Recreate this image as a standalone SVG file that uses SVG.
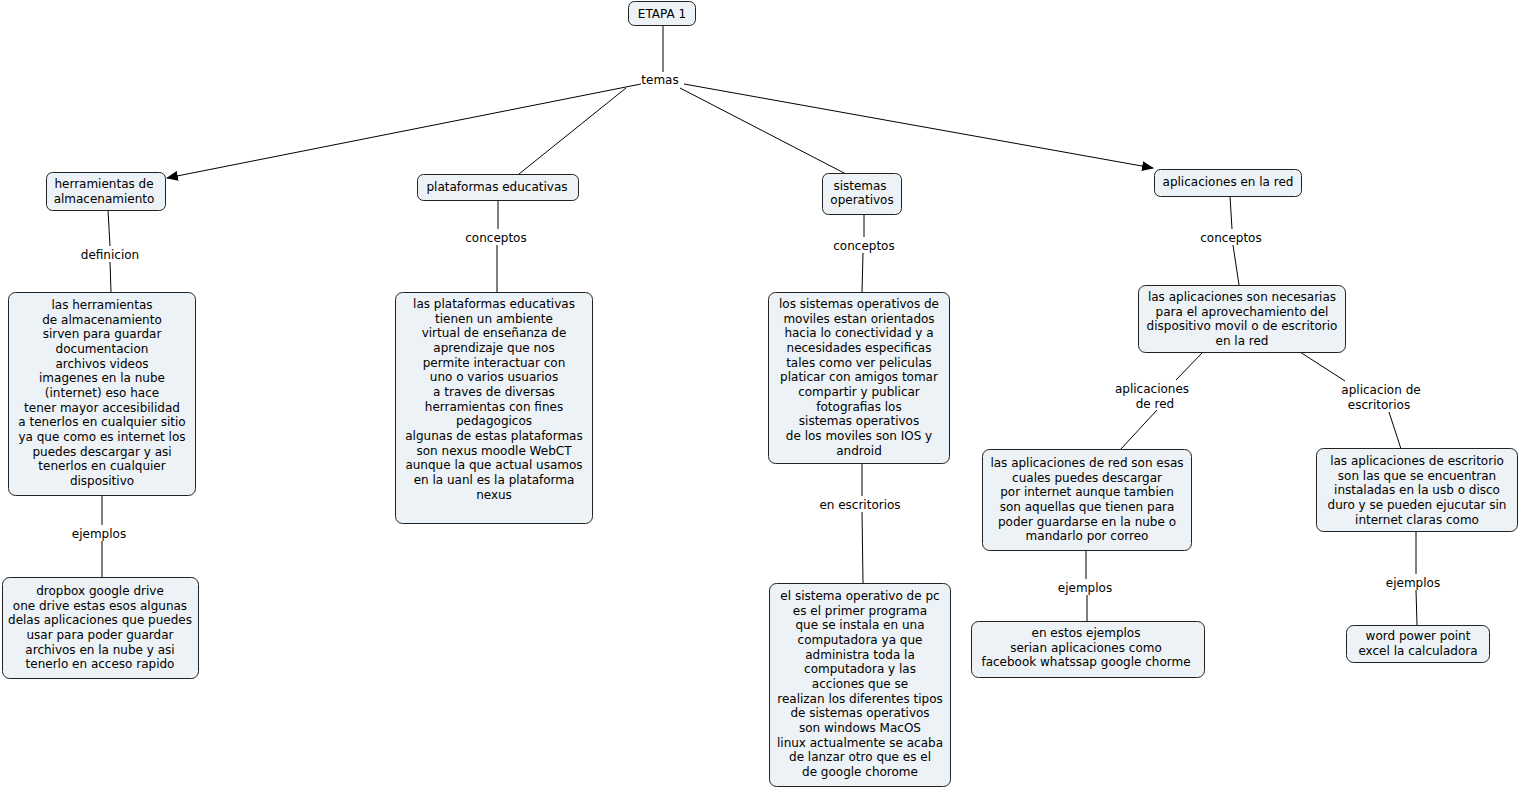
<svg xmlns="http://www.w3.org/2000/svg" width="1519" height="789" viewBox="0 0 1519 789">
<style>
.n{fill:#ECF2F5;stroke:#222;stroke-width:1}
.t{font-family:"DejaVu Sans",Verdana,sans-serif;font-size:12px;fill:#000;text-anchor:middle}
.c{stroke:#000;stroke-width:1;fill:none}
</style>
<defs>
<marker id="a" markerWidth="12" markerHeight="10" refX="11" refY="5" orient="auto" markerUnits="userSpaceOnUse">
<path d="M0,0 L12,5 L0,10 z" fill="#000"/>
</marker>
</defs>
<rect width="1519" height="789" fill="#fff"/>
<g id="connectors">
<line class="c" x1="663" y1="25" x2="663" y2="72"/>
<line class="c" x1="641" y1="84" x2="167" y2="178" marker-end="url(#a)"/>
<line class="c" x1="626" y1="88" x2="519" y2="174"/>
<line class="c" x1="680" y1="88" x2="846" y2="174"/>
<line class="c" x1="684" y1="84" x2="1153" y2="168" marker-end="url(#a)"/>
<line class="c" x1="108" y1="210" x2="110" y2="246"/>
<line class="c" x1="110" y1="262" x2="111" y2="292"/>
<line class="c" x1="102" y1="495" x2="102" y2="525"/>
<line class="c" x1="102" y1="541" x2="102" y2="577"/>
<line class="c" x1="498" y1="200" x2="498" y2="229"/>
<line class="c" x1="497" y1="245" x2="497" y2="292"/>
<line class="c" x1="864" y1="214" x2="864" y2="237"/>
<line class="c" x1="863" y1="253" x2="862" y2="292"/>
<line class="c" x1="862" y1="463" x2="862" y2="496"/>
<line class="c" x1="862" y1="512" x2="863" y2="583"/>
<line class="c" x1="1230" y1="196" x2="1232" y2="229"/>
<line class="c" x1="1233" y1="245" x2="1239" y2="285"/>
<line class="c" x1="1203" y1="352" x2="1176" y2="380"/>
<line class="c" x1="1157" y1="410" x2="1120" y2="450"/>
<line class="c" x1="1300" y1="352" x2="1345" y2="381"/>
<line class="c" x1="1389" y1="412" x2="1401" y2="449"/>
<line class="c" x1="1086" y1="550" x2="1086" y2="579"/>
<line class="c" x1="1087" y1="595" x2="1087" y2="621"/>
<line class="c" x1="1416" y1="531" x2="1416" y2="574"/>
<line class="c" x1="1416" y1="590" x2="1417" y2="625"/>
</g>
<g id="labels">
<text class="t" x="660" y="84">temas</text>
<text class="t" x="110" y="259">definicion</text>
<text class="t" x="99" y="538">ejemplos</text>
<text class="t" x="496" y="242">conceptos</text>
<text class="t" x="864" y="250">conceptos</text>
<text class="t" x="860" y="509">en escritorios</text>
<text class="t" x="1231" y="242">conceptos</text>
<text class="t" x="1152" y="393">aplicaciones</text>
<text class="t" x="1155" y="408">de red</text>
<text class="t" x="1381" y="394">aplicacion de</text>
<text class="t" x="1379" y="409">escritorios</text>
<text class="t" x="1085" y="592">ejemplos</text>
<text class="t" x="1413" y="587">ejemplos</text>
</g>
<g id="etapa1">
<rect class="n" x="628.5" y="1.5" width="67" height="24" rx="6"/>
<text class="t" x="662" y="18">ETAPA 1</text>
</g>
<g id="herramientas">
<rect class="n" x="46.5" y="172.5" width="119" height="38" rx="6"/>
<text class="t" x="104" y="188">herramientas de</text>
<text class="t" x="104" y="203">almacenamiento</text>
</g>
<g id="herramientas-def">
<rect class="n" x="8.5" y="292.5" width="187" height="203" rx="7"/>
<text class="t" x="102"><tspan x="102" y="309">las herramientas</tspan><tspan x="102" dy="14.67">de almacenamiento</tspan><tspan x="102" dy="14.67">sirven para guardar</tspan><tspan x="102" dy="14.67">documentacion</tspan><tspan x="102" dy="14.67">archivos videos</tspan><tspan x="102" dy="14.67">imagenes en la nube</tspan><tspan x="102" dy="14.67">(internet) eso hace</tspan><tspan x="102" dy="14.67">tener mayor accesibilidad</tspan><tspan x="102" dy="14.67">a tenerlos en cualquier sitio</tspan><tspan x="102" dy="14.67">ya que como es internet los</tspan><tspan x="102" dy="14.67">puedes descargar y asi</tspan><tspan x="102" dy="14.67">tenerlos en cualquier</tspan><tspan x="102" dy="14.67">dispositivo</tspan></text>
</g>
<g id="herramientas-ej">
<rect class="n" x="2.5" y="577.5" width="196" height="101" rx="7"/>
<text class="t"><tspan x="100" y="595">dropbox google drive</tspan><tspan x="100" dy="14.67">one drive estas esos algunas</tspan><tspan x="100" dy="14.67">delas aplicaciones que puedes</tspan><tspan x="100" dy="14.67">usar para poder guardar</tspan><tspan x="100" dy="14.67">archivos en la nube y asi</tspan><tspan x="100" dy="14.67">tenerlo en acceso rapido</tspan></text>
</g>
<g id="plataformas">
<rect class="n" x="417.5" y="174.5" width="161" height="26" rx="6"/>
<text class="t" x="497" y="191">plataformas educativas</text>
</g>
<g id="plataformas-def">
<rect class="n" x="395.5" y="292.5" width="197" height="231" rx="7"/>
<text class="t"><tspan x="494" y="308">las plataformas educativas</tspan><tspan x="494" dy="14.67">tienen un ambiente</tspan><tspan x="494" dy="14.67">virtual de enseñanza de</tspan><tspan x="494" dy="14.67">aprendizaje  que nos</tspan><tspan x="494" dy="14.67">permite interactuar con</tspan><tspan x="494" dy="14.67">uno o varios usuarios</tspan><tspan x="494" dy="14.67">a traves de diversas</tspan><tspan x="494" dy="14.67">herramientas con fines</tspan><tspan x="494" dy="14.67">pedagogicos</tspan><tspan x="494" dy="14.67">algunas de estas plataformas</tspan><tspan x="494" dy="14.67">son nexus moodle WebCT</tspan><tspan x="494" dy="14.67">aunque la que actual usamos</tspan><tspan x="494" dy="14.67">en la uanl es la plataforma</tspan><tspan x="494" dy="14.67">nexus</tspan></text>
</g>
<g id="sistemas">
<rect class="n" x="822.5" y="173.5" width="79" height="41" rx="6"/>
<text class="t" x="860" y="190">sistemas</text>
<text class="t" x="862" y="204">operativos</text>
</g>
<g id="sistemas-def">
<rect class="n" x="768.5" y="292.5" width="181" height="171" rx="7"/>
<text class="t"><tspan x="859" y="308">los sistemas operativos de</tspan><tspan x="859" dy="14.67">moviles estan orientados</tspan><tspan x="859" dy="14.67">hacia lo conectividad y a</tspan><tspan x="859" dy="14.67">necesidades especificas</tspan><tspan x="859" dy="14.67">tales como ver peliculas</tspan><tspan x="859" dy="14.67">platicar con amigos  tomar</tspan><tspan x="859" dy="14.67">compartir y publicar</tspan><tspan x="859" dy="14.67">fotografias los</tspan><tspan x="859" dy="14.67">sistemas operativos</tspan><tspan x="859" dy="14.67">de los moviles son IOS y</tspan><tspan x="859" dy="14.67">android</tspan></text>
</g>
<g id="sistemas-pc">
<rect class="n" x="769.5" y="583.5" width="181" height="203" rx="7"/>
<text class="t"><tspan x="860" y="600">el sistema operativo de pc</tspan><tspan x="860" dy="14.67">es el primer programa</tspan><tspan x="860" dy="14.67">que se instala en una</tspan><tspan x="860" dy="14.67">computadora ya que</tspan><tspan x="860" dy="14.67">administra toda la</tspan><tspan x="860" dy="14.67">computadora y las</tspan><tspan x="860" dy="14.67">acciones que se</tspan><tspan x="860" dy="14.67">realizan los diferentes tipos</tspan><tspan x="860" dy="14.67">de sistemas operativos</tspan><tspan x="860" dy="14.67">son windows MacOS</tspan><tspan x="860" dy="14.67">linux actualmente se acaba</tspan><tspan x="860" dy="14.67">de lanzar otro que es el</tspan><tspan x="860" dy="14.67">de google chorome</tspan></text>
</g>
<g id="aplicaciones">
<rect class="n" x="1154.5" y="169.5" width="147" height="27" rx="6"/>
<text class="t" x="1228" y="186">aplicaciones en la red</text>
</g>
<g id="aplicaciones-def">
<rect class="n" x="1138.5" y="285.5" width="207" height="67" rx="7"/>
<text class="t"><tspan x="1242" y="301">las aplicaciones son necesarias</tspan><tspan x="1242" dy="14.67">para el aprovechamiento del</tspan><tspan x="1242" dy="14.67">dispositivo movil o de escritorio</tspan><tspan x="1242" dy="14.67">en la red</tspan></text>
</g>
<g id="aplicaciones-red">
<rect class="n" x="982.5" y="449.5" width="209" height="101" rx="7"/>
<text class="t"><tspan x="1087" y="467">las aplicaciones de red son esas</tspan><tspan x="1087" dy="14.67">cuales puedes descargar</tspan><tspan x="1087" dy="14.67">por internet aunque tambien</tspan><tspan x="1087" dy="14.67">son aquellas que tienen para</tspan><tspan x="1087" dy="14.67">poder guardarse en la nube o</tspan><tspan x="1087" dy="14.67">mandarlo por correo</tspan></text>
</g>
<g id="aplicaciones-red-ej">
<rect class="n" x="971.5" y="621.5" width="233" height="56" rx="7"/>
<text class="t"><tspan x="1086" y="637">en estos ejemplos</tspan><tspan x="1086" dy="14.67">serian aplicaciones como</tspan><tspan x="1086" dy="14.67">facebook whatssap google chorme</tspan></text>
</g>
<g id="aplicaciones-esc">
<rect class="n" x="1316.5" y="448.5" width="201" height="83" rx="7"/>
<text class="t"><tspan x="1417" y="465">las aplicaciones de escritorio</tspan><tspan x="1417" dy="14.67">son las que se encuentran</tspan><tspan x="1417" dy="14.67">instaladas en la usb o disco</tspan><tspan x="1417" dy="14.67">duro y se pueden ejucutar sin</tspan><tspan x="1417" dy="14.67">internet claras como</tspan></text>
</g>
<g id="aplicaciones-esc-ej">
<rect class="n" x="1346.5" y="625.5" width="143" height="37" rx="7"/>
<text class="t"><tspan x="1418" y="640">word power point</tspan><tspan x="1418" dy="14.67">excel la calculadora</tspan></text>
</g>
</svg>
